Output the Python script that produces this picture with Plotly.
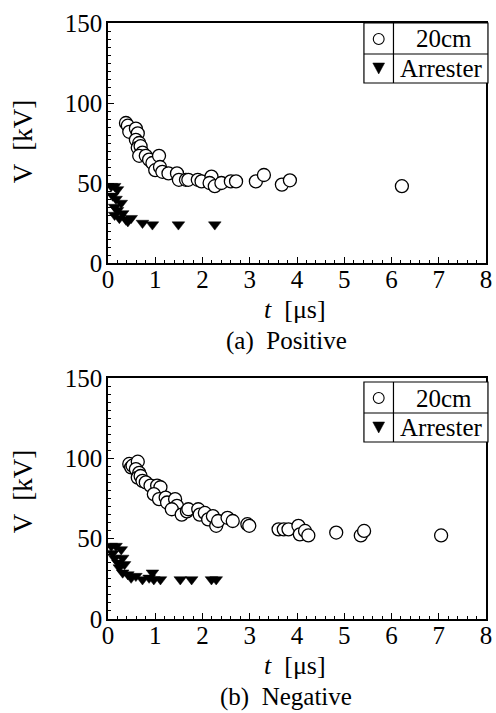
import plotly.graph_objects as go

# ---- data: (a) positive polarity ----
pos_20cm_t = [0.38, 0.42, 0.45, 0.59, 0.63, 0.59, 0.66, 0.63, 0.69, 0.73, 0.66, 0.80, 0.87, 0.94,
              1.08, 1.00, 1.10, 1.15, 1.28, 1.46, 1.50, 1.65, 1.70, 1.90, 1.98, 2.19, 2.15, 2.26,
              2.40, 2.60, 2.71, 3.13, 3.30, 3.68, 3.85, 6.22]
pos_20cm_v = [87.5, 85.8, 82, 84, 81, 77, 75, 72, 73, 69, 67, 67, 64.6, 62.5,
              67, 58, 60, 57, 56, 56, 52, 52, 52, 52, 51, 54, 50, 48,
              50, 51, 51, 51, 55, 49, 51.7, 48]
pos_arr_t = [0.07, 0.14, 0.20, 0.10, 0.17, 0.28, 0.14, 0.20, 0.31, 0.14, 0.24, 0.38, 0.49, 0.42,
             0.73, 0.94, 1.49, 2.26]
pos_arr_v = [48, 48, 46, 42, 40, 37.5, 35, 33, 31, 30, 28, 27, 28, 26,
             25, 24, 24, 24]

# ---- data: (b) negative polarity ----
neg_20cm_t = [0.45, 0.49, 0.52, 0.63, 0.59, 0.66, 0.63, 0.69, 0.73, 0.80, 0.90, 1.04, 1.11, 0.97,
              1.08, 1.22, 1.25, 1.42, 1.46, 1.35, 1.56, 1.67, 1.70, 1.91, 1.94, 2.05, 2.12, 2.22,
              2.29, 2.33, 2.53, 2.64, 2.95, 2.99, 3.61, 3.72, 3.82, 4.03, 4.06, 4.17, 4.24, 4.83,
              5.35, 5.42, 7.05]
neg_20cm_v = [96.5, 94.4, 95.4, 97.9, 93.3, 91, 88, 89, 86, 85, 83, 83, 82, 77.7,
              74.6, 75.6, 72.5, 74.6, 70.4, 68.3, 65, 67, 68.3, 68.3, 65, 66, 62, 64,
              58, 61, 63, 61, 59, 58, 55.8, 55.8, 55.8, 58, 52.7, 54.8, 52, 53.8,
              52, 54.8, 52]
neg_arr_t = [0.07, 0.17, 0.28, 0.10, 0.14, 0.31, 0.21, 0.35, 0.24, 0.31, 0.42, 0.49, 0.59, 0.73,
             0.87, 0.94, 0.97, 1.11, 1.53, 1.77, 2.19, 2.29]
neg_arr_v = [45.4, 45.4, 43.3, 41, 38, 38, 35, 34, 32, 28.8, 27.7, 25.6, 26.7, 24.6,
             25.6, 28.8, 24.6, 24.6, 24.6, 24.6, 24.6, 24.6]

x_ticks = [0, 1, 2, 3, 4, 5, 6, 7, 8]
y_ticks = [0, 50, 100, 150]
series_names = ["20cm", "Arrester"]
captions = ["(a)  Positive", "(b)  Negative"]

W, H = 496, 713
M_L, M_R, M_T, M_B = 108, 4, 23, 94
PLOT_H = H - M_T - M_B
FONT = "Liberation Serif"
FS_TICK = 25
FS_TITLE = 26


def py(px_y):
    """pixel row -> paper y"""
    return (H - M_B - px_y) / PLOT_H


def px(px_x):
    """pixel column -> paper x"""
    return (px_x - M_L) / (W - M_L - M_R)


fig = go.Figure()

panels = [
    ("x", "y", pos_20cm_t, pos_20cm_v, pos_arr_t, pos_arr_v),
    ("x2", "y2", neg_20cm_t, neg_20cm_v, neg_arr_t, neg_arr_v),
]
for xa, ya, ct, cv, at, av in panels:
    fig.add_trace(go.Scatter(
        x=ct, y=cv, mode="markers", xaxis=xa, yaxis=ya, showlegend=False,
        marker=dict(symbol="circle", size=13, color="white",
                    line=dict(color="black", width=1.3))))
    fig.add_trace(go.Scatter(
        x=at, y=av, mode="markers", xaxis=xa, yaxis=ya, showlegend=False,
        marker=dict(symbol="triangle-down", size=11, color="black",
                    line=dict(color="black", width=0.5))))

axis_common = dict(
    showline=True, linecolor="black", linewidth=1.5, mirror=True,
    ticks="inside", ticklen=6, tickwidth=1.2, tickcolor="black",
    showgrid=False, zeroline=False, ticklabeloverflow="allow",
    tickfont=dict(family=FONT, size=FS_TICK, color="black"),
)
xaxis_cfg = dict(axis_common, range=[0, 8], tickvals=x_ticks, ticklabelstandoff=-7,
                 minor=dict(ticks="inside", ticklen=3, tickwidth=1, dtick=0.2, tickcolor="black"))
yaxis_cfg = dict(axis_common, range=[0, 150], tickvals=y_ticks, ticklabelstandoff=-1,
                 minor=dict(ticks="inside", ticklen=3, tickwidth=1, dtick=5, tickcolor="black"))

top_dom = [py(263), 1.0]
bot_dom = [0.0, py(378)]

fig.update_layout(
    width=W, height=H,
    margin=dict(l=M_L, r=M_R, t=M_T, b=M_B),
    paper_bgcolor="white", plot_bgcolor="white",
    font=dict(family=FONT, size=FS_TICK, color="black"),
    xaxis=dict(xaxis_cfg, anchor="y", domain=[0, 1]),
    yaxis=dict(yaxis_cfg, anchor="x", domain=top_dom),
    xaxis2=dict(xaxis_cfg, anchor="y2", domain=[0, 1]),
    yaxis2=dict(yaxis_cfg, anchor="x2", domain=bot_dom),
)

annotations = []
shapes = []

# axis titles and captions for each panel
for (bottom_px, title_mid), cap in zip([(263, 141), (619, 491)], captions):
    annotations.append(dict(
        xref="paper", yref="paper", x=px(22), y=py(title_mid), text="V  [kV]",
        textangle=-90, showarrow=False, xanchor="center", yanchor="middle",
        font=dict(family=FONT, size=FS_TITLE + 1)))
    annotations.append(dict(
        xref="paper", yref="paper", x=px(298), y=py(bottom_px + 46),
        text="<i>t</i>  [μs]", showarrow=False, xanchor="center", yanchor="middle",
        font=dict(family=FONT, size=FS_TITLE)))
    annotations.append(dict(
        xref="paper", yref="paper", x=px(289), y=py(bottom_px + 78),
        text=cap, showarrow=False, xanchor="center", yanchor="middle",
        font=dict(family=FONT, size=FS_TICK)))

# table-style legend boxes
for top in (23, 382):
    left, right, col, bottom = 368, 494, 398, top + 60
    mid_row = top + 31
    line = dict(color="black", width=1.2)
    shapes.append(dict(type="rect", xref="paper", yref="paper",
                       x0=px(left), x1=px(right), y0=py(bottom), y1=py(top),
                       line=line, fillcolor="white", layer="above"))
    shapes.append(dict(type="line", xref="paper", yref="paper",
                       x0=px(left), x1=px(right), y0=py(mid_row), y1=py(mid_row), line=line))
    shapes.append(dict(type="line", xref="paper", yref="paper",
                       x0=px(col), x1=px(col), y0=py(bottom), y1=py(top), line=line))
    # open circle glyph
    cx, cy1, cy2 = 383, top + 16, top + 45
    shapes.append(dict(type="circle", xref="paper", yref="paper",
                       x0=px(cx - 5.5), x1=px(cx + 5.5), y0=py(cy1 + 5.5), y1=py(cy1 - 5.5),
                       line=dict(color="black", width=1.1), fillcolor="white"))
    # filled triangle glyph
    tri = "M {:.5f},{:.5f} L {:.5f},{:.5f} L {:.5f},{:.5f} Z".format(
        px(cx - 6), py(cy2 - 5), px(cx + 6), py(cy2 - 5), px(cx), py(cy2 + 6))
    shapes.append(dict(type="path", xref="paper", yref="paper", path=tri,
                       line=dict(color="black", width=0.5), fillcolor="black"))
    annotations.append(dict(xref="paper", yref="paper", x=px(449), y=py(cy1),
                            text=series_names[0], showarrow=False,
                            xanchor="center", yanchor="middle",
                            font=dict(family=FONT, size=FS_TICK)))
    annotations.append(dict(xref="paper", yref="paper", x=px(447), y=py(cy2),
                            text=series_names[1], showarrow=False,
                            xanchor="center", yanchor="middle",
                            font=dict(family=FONT, size=FS_TICK)))

fig.update_layout(annotations=annotations, shapes=shapes)

fig.write_html("out.html")
